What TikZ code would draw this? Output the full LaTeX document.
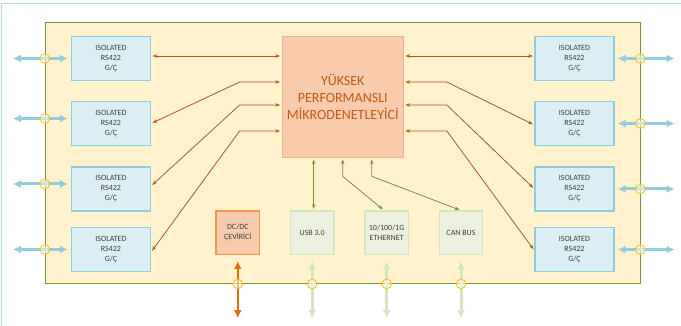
\documentclass[tikz,border=0pt]{standalone}
\usepackage{fontspec}
\setmainfont{Carlito}
\usepackage{xcolor}
\usetikzlibrary{arrows.meta,calc}
\definecolor{boardfill}{HTML}{FFF2CC}
\definecolor{boardline}{HTML}{77933C}
\definecolor{rsfill}{HTML}{DAEEF3}
\definecolor{rsline}{HTML}{92CDDC}
\definecolor{mcufill}{HTML}{F8CBAD}
\definecolor{mculine}{HTML}{F4B183}
\definecolor{mcutext}{HTML}{C55A11}
\definecolor{dcline}{HTML}{F79646}
\definecolor{dcarrow}{HTML}{E46C0A}
\definecolor{iofill}{HTML}{EBF1DE}
\definecolor{ioline}{HTML}{D7E4BD}
\definecolor{linkbrown}{HTML}{AD5B1C}
\definecolor{portring}{HTML}{FFC000}
\definecolor{frameblue}{HTML}{B7DEE8}
\definecolor{labelgray}{HTML}{404040}
\tikzset{
	board/.style={draw=boardline, fill=boardfill, line width=1pt, minimum width=595pt, minimum height=261pt, inner sep=0pt},
	rsbox/.style={draw=rsline, fill=rsfill, line width=1.2pt, minimum width=79pt, minimum height=44pt, inner sep=0pt,
			align=center, text=labelgray, font=\fontsize{8}{10}\selectfont},
	mcubox/.style={draw=mculine, fill=mcufill, line width=1.2pt, minimum width=121pt, minimum height=121pt, inner sep=0pt,
			align=center, text=mcutext, font=\fontsize{14}{16.7}\selectfont},
	iobox/.style={draw=ioline, fill=iofill, line width=1.2pt, minimum size=43.5pt, inner sep=0pt,
			align=center, text=labelgray, font=\fontsize{8}{10}\selectfont},
	dcbox/.style={iobox, draw=dcline, fill=mcufill},
	link/.style={draw=linkbrown, line width=0.8pt, {Stealth[length=5pt,width=3.5pt]}-{Stealth[length=5pt,width=3.5pt]},
			shorten <=1.5pt, shorten >=1.5pt},
	buslink/.style={link, draw=boardline},
	rsport/.style={draw=rsline, line width=3pt, {Latex[length=8pt,width=8pt]}-{Latex[length=8pt,width=8pt]}},
	ioport/.style={rsport, draw=ioline},
	dcport/.style={rsport, draw=dcarrow, line width=2.4pt},
	port/.style={circle, draw=portring, fill=white, fill opacity=0.5, line width=0.8pt, minimum size=9.5pt, inner sep=0pt}
}

\begin{document}
\begin{tikzpicture}[x=1pt,y=-1pt]
	\useasboundingbox (0,0) rectangle (681,326);
	\draw [frameblue, line width=1.3pt] (1.5,326) -- (1.5,3.5) -- (681,3.5);

	\node [board] (board) at (342.5,153.5) {};
	\node [mcubox] (mcu) at (342.75,96.75) {YÜKSEK\\PERFORMANSLI\\MİKRODENETLEYİCİ};

	\node [rsbox] (rsL1) at (111,58.5) {ISOLATED\\RS422\\G/Ç};
	\node [rsbox] (rsL2) at (111,123.5) {ISOLATED\\RS422\\G/Ç};
	\node [rsbox] (rsL3) at (111,189) {ISOLATED\\RS422\\G/Ç};
	\node [rsbox] (rsL4) at (111,249.5) {ISOLATED\\RS422\\G/Ç};
	\node [rsbox] (rsR1) at (574.5,58.5) {ISOLATED\\RS422\\G/Ç};
	\node [rsbox] (rsR2) at (574.5,123.5) {ISOLATED\\RS422\\G/Ç};
	\node [rsbox] (rsR3) at (574.5,189) {ISOLATED\\RS422\\G/Ç};
	\node [rsbox] (rsR4) at (574.5,249.5) {ISOLATED\\RS422\\G/Ç};

	\node [dcbox] (dc) at (237.8,232.8) {DC/DC\\ÇEVİRİCİ};
	\node [iobox] (usb) at (312.2,232.8) {USB 3.0};
	\node [iobox] (eth) at (386.7,232.8) {10/100/1G\\ETHERNET};
	\node [iobox] (can) at (461,232.8) {CAN BUS};

	\draw [link] ([yshift=2.5pt]rsL1.east) -- ([yshift=2.5pt]rsL1.east -| mcu.west);
	\draw [link] ([yshift=14.75pt]mcu.west) -- ++(-42,0) -- (rsL2.east);
	\draw [link] ([yshift=-8.25pt]mcu.west) -- ++(-42,0) -- ([yshift=3pt]rsL3.east);
	\draw [link] ([yshift=-34.25pt]mcu.west) -- ++(-42,0) -- ([yshift=-2.5pt]rsL4.east);
	\draw [link] ([yshift=2.5pt]rsR1.west) -- ([yshift=2.5pt]rsR1.west -| mcu.east);
	\draw [link] ([yshift=14.75pt]mcu.east) -- ++(43,0) -- ([yshift=-1.5pt]rsR2.west);
	\draw [link] ([yshift=-8.25pt]mcu.east) -- ++(43,0) -- (rsR3.west);
	\draw [link] ([yshift=-34.25pt]mcu.east) -- ++(43,0) -- ([yshift=-1pt]rsR4.west);

	\draw [buslink] ([xshift=-29pt]mcu.south) -- ([xshift=-29pt]mcu.south |- usb.north);
	\draw [buslink] (mcu.south) -- ++(0,18.5) -- ([xshift=-2.5pt]eth.north);
	\draw [buslink] ([xshift=29pt]mcu.south) -- ++(0,18.5) -- (can.north);

	\draw [rsport] ([xshift=-3pt]rsL1.west) -- node [port, pos=0.42] (pL1) {} ++(-55,0);
	\draw [rsport] ([shift={(-3,-5)}]rsL2.west) -- node [port, pos=0.42] (pL2) {} ++(-55,0);
	\draw [rsport] ([shift={(-3,-5)}]rsL3.west) -- node [port, pos=0.42] (pL3) {} ++(-55,0);
	\draw [rsport] ([xshift=-3pt]rsL4.west) -- node [port, pos=0.42] (pL4) {} ++(-55,0);
	\draw [rsport] ([xshift=3pt]rsR1.east) -- node [port, pos=0.4] (pR1) {} ++(57,0);
	\draw [rsport] ([xshift=3pt]rsR2.east) -- node [port, pos=0.4] (pR2) {} ++(57,0);
	\draw [rsport] ([xshift=3pt]rsR3.east) -- node [port, pos=0.4] (pR3) {} ++(57,0);
	\draw [rsport] ([xshift=3pt]rsR4.east) -- node [port, pos=0.4] (pR4) {} ++(57,0);

	\draw [dcport] ([yshift=-6pt]dc.south) -- node [port, pos=0.4] (pdc) {} ++(0,57);
	\draw [ioport] ([yshift=-6pt]usb.south) -- node [port, pos=0.4] (pusb) {} ++(0,57);
	\draw [ioport] ([yshift=-6pt]eth.south) -- node [port, pos=0.4] (peth) {} ++(0,57);
	\draw [ioport] ([yshift=-6pt]can.south) -- node [port, pos=0.4] (pcan) {} ++(0,57);
\end{tikzpicture}
\end{document}
